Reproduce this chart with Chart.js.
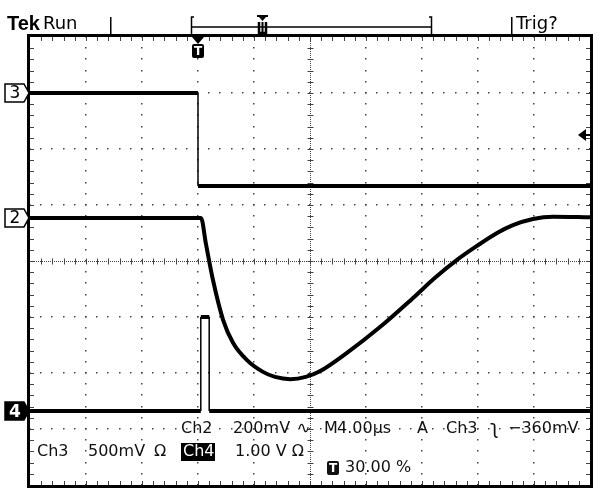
<!DOCTYPE html>
<html>
<head>
<meta charset="utf-8">
<script src="https://cdn.jsdelivr.net/npm/chart.js@4.4.1/dist/chart.umd.min.js"></script>
<style>
  html, body { margin: 0; padding: 0; background: #fff; }
  #wrap { width: 600px; height: 496px; }
</style>
</head>
<body>
<div id="wrap"><canvas id="scope" width="600" height="496"></canvas></div>
<script>
// Time in µs (4 µs/div, trigger at 0), level in divisions from the screen centre
const ch3Time = [-12, 0, 0, 28];
const ch3Level = [3.0, 3.0, 1.34, 1.34];

const ch2Time = [-12, 0.21, 0.57, 1.07, 1.79, 2.5, 3.5, 4.64, 5.5, 6.6, 7.7, 8.7, 10.64, 13.0, 15.36, 16.93, 18.5, 19.93, 21.36, 22.5, 23.93, 25.36, 28];
const ch2Level = [0.77, 0.77, 0.3, -0.34, -1.05, -1.46, -1.77, -1.98, -2.07, -2.11, -2.07, -1.97, -1.64, -1.18, -0.66, -0.3, 0.02, 0.27, 0.5, 0.64, 0.75, 0.79, 0.78];

const ch4Time = [-12, 0.2, 0.2, 0.8, 0.8, 28];
const ch4Level = [-2.68, -2.68, -1.0, -1.0, -2.68, -2.68];

// Ground markers on the left and trigger level on the right
const markerLabels = ["3", "2", "4"];
const markerLevels = [3.0, 0.77, -2.68];
const triggerLevel = 2.25;

// Readout texts
const readout1 = ["Ch2", "200mV", "\u223F", "M", "4.00\u00B5s", "A", "Ch3", "\u0285", "\u2212360mV"];
const readout2 = ["Ch3", "500mV", "\u03A9", "Ch4", "1.00 V \u03A9"];
const readout3 = "30.00 %";

function toPoints(xs, ys) {
  return xs.map((x, i) => ({ x: x, y: ys[i] }));
}

// Fast edges are drawn thin, the noisy levels thick
function traceWidth(ctx) {
  return ctx.p0.parsed.x === ctx.p1.parsed.x ? 1.5 : 4;
}

const graticule = {
  id: "graticule",
  beforeDatasetsDraw(chart) {
    const { ctx, chartArea: a, scales: { x, y } } = chart;
    ctx.save();
    ctx.fillStyle = "#444";

    // dotted division lines
    for (let i = 1; i < 10; i++) {
      if (i === 5) continue;
      const px = Math.round(x.getPixelForValue(-12 + i * 4));
      for (let k = 0; k <= 40; k++) {
        const py = Math.round(y.getPixelForValue(-4 + k * 0.2));
        ctx.fillRect(px - 1, py - 1, 1.5, 1.5);
      }
    }
    for (let j = 1; j < 8; j++) {
      if (j === 4) continue;
      const py = Math.round(y.getPixelForValue(-4 + j));
      for (let k = 0; k <= 50; k++) {
        const px = Math.round(x.getPixelForValue(-12 + k * 0.8));
        ctx.fillRect(px - 1, py - 1, 1.5, 1.5);
      }
    }

    // centre cross with minor ticks
    const cx = Math.round(x.getPixelForValue(8)) + 0.5;
    const cy = Math.round(y.getPixelForValue(0)) + 0.5;
    ctx.strokeStyle = "#444";
    ctx.lineWidth = 1;
    ctx.setLineDash([1, 1]);
    ctx.beginPath();
    ctx.moveTo(cx, a.top);
    ctx.lineTo(cx, a.bottom);
    ctx.moveTo(a.left, cy);
    ctx.lineTo(a.right, cy);
    ctx.stroke();
    ctx.setLineDash([]);
    ctx.beginPath();
    for (let k = 1; k < 40; k++) {
      const py = Math.round(y.getPixelForValue(-4 + k * 0.2)) + 0.5;
      ctx.moveTo(cx - 3, py);
      ctx.lineTo(cx + 3, py);
      ctx.moveTo(a.left, py);
      ctx.lineTo(a.left + 4, py);
      ctx.moveTo(a.right - 4, py);
      ctx.lineTo(a.right, py);
    }
    for (let k = 1; k < 50; k++) {
      const px = Math.round(x.getPixelForValue(-12 + k * 0.8)) + 0.5;
      ctx.moveTo(px, cy - 3);
      ctx.lineTo(px, cy + 3);
      ctx.moveTo(px, a.top);
      ctx.lineTo(px, a.top + 4);
      ctx.moveTo(px, a.bottom - 4);
      ctx.lineTo(px, a.bottom);
    }
    ctx.stroke();
    ctx.restore();
  },
  afterDraw(chart) {
    const { ctx, chartArea: a, scales: { x, y } } = chart;
    ctx.save();

    // frame
    ctx.strokeStyle = "#000";
    ctx.lineWidth = 3;
    ctx.strokeRect(a.left - 1.5, a.top - 1.5, a.width + 3, a.height + 3);

    // top status bar
    ctx.fillStyle = "#000";
    ctx.fillRect(110, 17, 1.5, 18);
    ctx.fillRect(511, 17, 1.5, 18);
    ctx.lineWidth = 1.5;
    ctx.beginPath();
    ctx.moveTo(194, 17); ctx.lineTo(191.5, 17); ctx.lineTo(191.5, 35);
    ctx.moveTo(191.5, 27); ctx.lineTo(431.5, 27);
    ctx.moveTo(429, 17); ctx.lineTo(431.5, 17); ctx.lineTo(431.5, 35);
    ctx.stroke();
    // record position marker
    ctx.fillRect(257, 15, 11, 2);
    ctx.beginPath();
    ctx.moveTo(259, 17); ctx.lineTo(266, 17); ctx.lineTo(262.5, 21); ctx.closePath();
    ctx.fill();
    ctx.lineWidth = 2.5;
    ctx.beginPath();
    ctx.moveTo(259, 22); ctx.lineTo(259, 33); ctx.lineTo(266, 33); ctx.lineTo(266, 22);
    ctx.stroke();
    ctx.fillRect(261.5, 22, 2, 11);

    ctx.textBaseline = "middle";
    ctx.textAlign = "left";
    ctx.font = "bold 20px 'Liberation Sans'";
    ctx.fillText("Tek", 7, 24);
    ctx.font = "18px 'DejaVu Sans'";
    ctx.fillText("Run", 43, 24);
    ctx.fillText("Trig?", 516, 24);

    // trigger position marker
    const tx = x.getPixelForValue(0);
    ctx.beginPath();
    ctx.moveTo(tx - 6, a.top); ctx.lineTo(tx + 6, a.top); ctx.lineTo(tx, a.top + 7); ctx.closePath();
    ctx.fill();
    ctx.beginPath();
    ctx.roundRect(tx - 6, a.top + 7, 12, 14, 2);
    ctx.fill();
    ctx.fillStyle = "#fff";
    ctx.font = "bold 12px 'DejaVu Sans'";
    ctx.textAlign = "center";
    ctx.fillText("T", tx, a.top + 14.5);

    // channel ground markers
    markerLabels.forEach((label, i) => {
      const my = y.getPixelForValue(markerLevels[i]);
      const filled = label === "4";
      ctx.beginPath();
      ctx.moveTo(5, my - 9); ctx.lineTo(24, my - 9); ctx.lineTo(a.left - 1, my);
      ctx.lineTo(24, my + 9); ctx.lineTo(5, my + 9); ctx.closePath();
      ctx.fillStyle = filled ? "#000" : "#fff";
      ctx.fill();
      ctx.lineWidth = 1.5;
      ctx.strokeStyle = "#000";
      ctx.stroke();
      ctx.fillStyle = filled ? "#fff" : "#000";
      ctx.font = filled ? "bold 17px 'DejaVu Sans'" : "17px 'DejaVu Sans'";
      ctx.fillText(label, 15, my + 1);
    });

    // trigger level arrow
    const ty = y.getPixelForValue(triggerLevel);
    ctx.fillStyle = "#000";
    ctx.beginPath();
    ctx.moveTo(578, ty); ctx.lineTo(586, ty - 6); ctx.lineTo(586, ty + 6); ctx.closePath();
    ctx.fill();
    ctx.fillRect(585, ty - 1, a.right - 585, 2);

    // readout
    ctx.textAlign = "left";
    ctx.fillStyle = "#111";
    const line1X = [181, 233, 297, 324, 337, 417, 446, 490, 508];
    readout1.forEach((t, i) => {
      ctx.font = t === "\u0285" ? "19px 'DejaVu Sans'" : "16px 'DejaVu Sans'";
      ctx.fillText(t, line1X[i], 429);
    });
    ctx.font = "16px 'DejaVu Sans'";
    const line2X = [37, 88, 154, 183, 235];
    readout2.forEach((t, i) => {
      if (t === "Ch4") {
        ctx.fillStyle = "#000";
        ctx.fillRect(181, 443, 34, 18);
        ctx.fillStyle = "#fff";
        ctx.fillText(t, line2X[i], 452);
        ctx.fillStyle = "#111";
      } else {
        ctx.fillText(t, line2X[i], 452);
      }
    });
    ctx.beginPath();
    ctx.roundRect(327, 461, 12, 14, 2);
    ctx.fill();
    ctx.fillStyle = "#fff";
    ctx.font = "bold 12px 'DejaVu Sans'";
    ctx.textAlign = "center";
    ctx.fillText("T", 333, 468.5);
    ctx.fillStyle = "#111";
    ctx.font = "16px 'DejaVu Sans'";
    ctx.textAlign = "left";
    ctx.fillText(readout3, 345, 468);

    ctx.restore();
  }
};

const scopeChart = new Chart(document.getElementById("scope"), {
  type: "line",
  data: {
    datasets: [
      {
        label: "Ch3",
        data: toPoints(ch3Time, ch3Level),
        borderColor: "#000",
        borderWidth: 4,
        pointRadius: 0,
        tension: 0,
        segment: { borderWidth: traceWidth },
      },
      {
        label: "Ch2",
        data: toPoints(ch2Time, ch2Level),
        borderColor: "#000",
        borderWidth: 4,
        pointRadius: 0,
        cubicInterpolationMode: "monotone",
      },
      {
        label: "Ch4",
        data: toPoints(ch4Time, ch4Level),
        borderColor: "#000",
        borderWidth: 4,
        pointRadius: 0,
        tension: 0,
        segment: { borderWidth: traceWidth },
      },
    ],
  },
  options: {
    responsive: false,
    animation: false,
    layout: { padding: { left: 30, right: 10, top: 37, bottom: 11 } },
    plugins: { legend: { display: false }, tooltip: { enabled: false } },
    scales: {
      x: { type: "linear", min: -12, max: 28, display: false },
      y: { type: "linear", min: -4, max: 4, display: false },
    },
  },
  plugins: [graticule],
});
</script>
</body>
</html>
